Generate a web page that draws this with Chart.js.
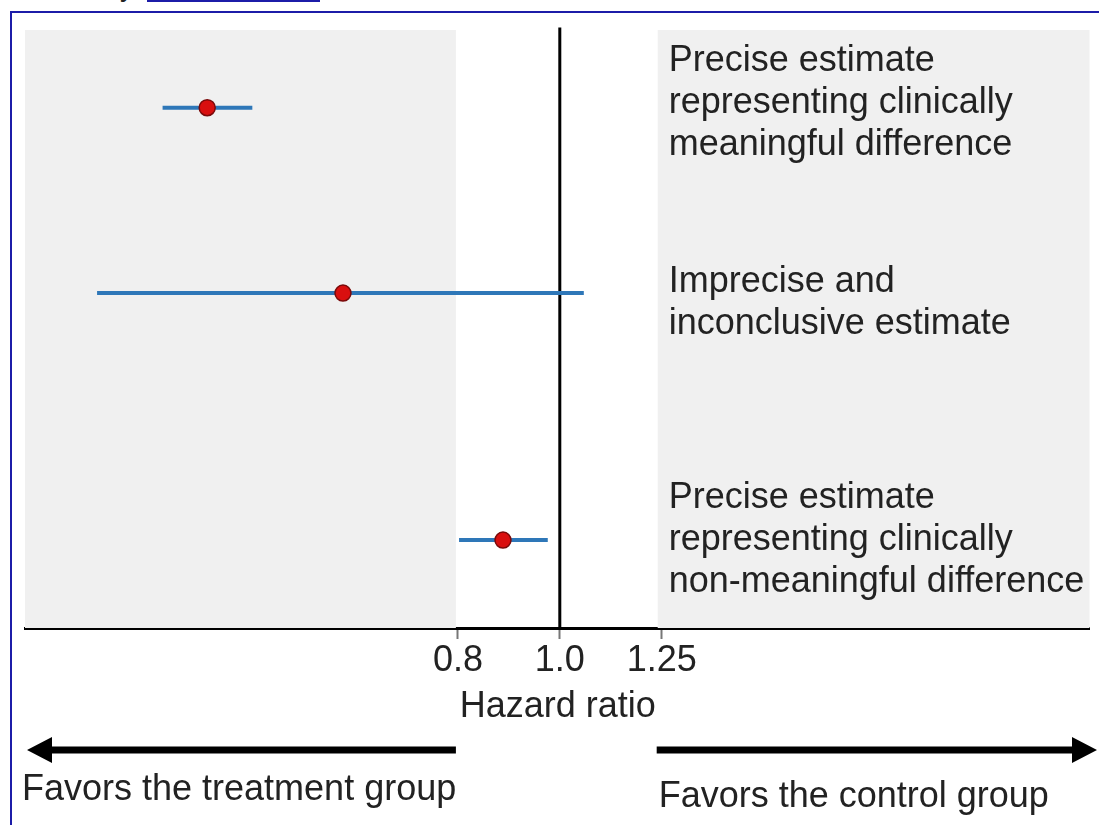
<!DOCTYPE html>
<html>
<head>
<meta charset="utf-8">
<script src="https://cdn.jsdelivr.net/npm/chart.js@4/dist/chart.umd.min.js"></script>
<style>
  body { margin: 0; background: #fff; overflow: hidden; }
  #wrap { position: relative; width: 1099px; height: 825px; }
  #frame { position: absolute; left: 10px; top: 11px; right: -10px; bottom: -10px;
           border-left: 2px solid #1c1ca8; border-top: 2px solid #1c1ca8; }
  #link { position: absolute; left: 147px; top: 0; width: 173px; height: 2px; background: #1c1ca8; }
  #stub { position: absolute; left: 120px; top: -29px; font: 28px "Liberation Sans", Arial, sans-serif; color: #222; }
  canvas { position: absolute; left: 0; top: 0; }
</style>
</head>
<body>
<div id="wrap">
  <div id="stub">y</div>
  <div id="link"></div>
  <div id="frame"></div>
  <canvas id="forest" width="1099" height="825"></canvas>
</div>
<script>
// hazard ratio estimates
const rows = [87, 56, 14.7];             // vertical slot of each estimate
const estimates = [0.462, 0.622, 0.883];
const lower = [0.419, 0.363, 0.802];
const upper = [0.510, 1.054, 0.974];
const tickValues = [0.8, 1.0, 1.25];
const tickLabels = ['0.8', '1.0', '1.25'];
const notes = [
  ['Precise estimate', 'representing clinically', 'meaningful difference'],
  ['Imprecise and', 'inconclusive estimate'],
  ['Precise estimate', 'representing clinically', 'non-meaningful difference']
];

const FONT = '"Liberation Sans", Arial, sans-serif';
const TEXT = '#222';
const noteShift = [-5, 10, 0];   // nudge each note block vertically (px)

// shaded zones outside 0.8 - 1.25
const zones = {
  id: 'zones',
  beforeDatasetsDraw(chart) {
    const { ctx, chartArea: a, scales: { x } } = chart;
    ctx.save();
    ctx.fillStyle = '#f0f0f0';
    const l = x.getPixelForValue(tickValues[0]) - 2;
    const r = x.getPixelForValue(tickValues[2]) - 4;
    ctx.fillRect(a.left, a.top, l - a.left, a.bottom - a.top);
    ctx.fillRect(r, a.top, a.right - r, a.bottom - a.top);
    ctx.restore();
  }
};

// notes, axis title and direction arrows
const extras = {
  id: 'extras',
  afterDraw(chart) {
    const { ctx, scales: { x, y } } = chart;
    ctx.save();
    ctx.fillStyle = TEXT;
    ctx.font = '36px ' + FONT;
    ctx.textBaseline = 'middle';
    ctx.textAlign = 'left';
    const nx = x.getPixelForValue(tickValues[2]) + 7;
    notes.forEach((lines, i) => {
      const cy = y.getPixelForValue(rows[i]) + noteShift[i];
      lines.forEach((t, j) => {
        ctx.fillText(t, nx, cy + (j - (lines.length - 1) / 2) * 42);
      });
    });

    ctx.textAlign = 'center';
    ctx.fillText('Hazard ratio', x.getPixelForValue(1.0) - 2, 707);

    // arrows
    const l = x.getPixelForValue(tickValues[0]);
    const r = x.getPixelForValue(tickValues[2]);
    const ay = 750;
    ctx.strokeStyle = '#000';
    ctx.fillStyle = '#000';
    ctx.lineWidth = 7;
    ctx.beginPath();
    ctx.moveTo(l - 2, ay); ctx.lineTo(45, ay);
    ctx.moveTo(r - 5, ay); ctx.lineTo(1078, ay);
    ctx.stroke();
    ctx.beginPath();
    ctx.moveTo(27, ay); ctx.lineTo(52, ay - 13); ctx.lineTo(52, ay + 13); ctx.closePath();
    ctx.moveTo(1097, ay); ctx.lineTo(1072, ay - 13); ctx.lineTo(1072, ay + 13); ctx.closePath();
    ctx.fill();

    ctx.fillStyle = TEXT;
    ctx.textAlign = 'left';
    ctx.fillText('Favors the treatment group', 22, 790);
    ctx.fillText('Favors the control group', r - 3, 797);
    ctx.restore();
  }
};

const ciSets = rows.map((r, i) => ({
  type: 'line',
  data: [{ x: lower[i], y: r }, { x: upper[i], y: r }],
  borderColor: '#2e77b8',
  borderWidth: 4,
  pointRadius: 0,
  order: 2
}));

new Chart(document.getElementById('forest'), {
  type: 'scatter',
  data: {
    datasets: [
      {
        type: 'line',
        data: [{ x: 1.0, y: 0 }, { x: 1.0, y: 100.4 }],
        borderColor: '#000',
        borderWidth: 3,
        pointRadius: 0,
        clip: false,
        order: 3
      },
      ...ciSets,
      {
        data: rows.map((r, i) => ({ x: estimates[i], y: r })),
        backgroundColor: '#d90f0f',
        borderColor: '#7a0a0a',
        borderWidth: 1.5,
        pointRadius: 8,
        order: 1
      }
    ]
  },
  options: {
    responsive: false,
    animation: false,
    layout: { padding: { left: 25, right: 9, top: 30, bottom: 0 } },
    plugins: { legend: { display: false }, tooltip: { enabled: false } },
    scales: {
      x: {
        type: 'logarithmic',
        bounds: 'data',
        min: 0.31,
        max: 3.19,
        afterBuildTicks(scale) { scale.ticks = tickValues.map(v => ({ value: v })); },
        afterFit(scale) { scale.height = 197; },
        border: { display: true, color: '#000', width: 3 },
        grid: { drawOnChartArea: false, drawTicks: true, tickLength: 11, tickColor: '#777', tickWidth: 2 },
        ticks: {
          autoSkip: false,
          maxRotation: 0,
          padding: 0,
          color: TEXT,
          font: { family: FONT, size: 36 },
          callback: (v, i) => tickLabels[i]
        }
      },
      y: { display: false, min: 0, max: 100 }
    }
  },
  plugins: [zones, extras]
});
</script>
</body>
</html>
